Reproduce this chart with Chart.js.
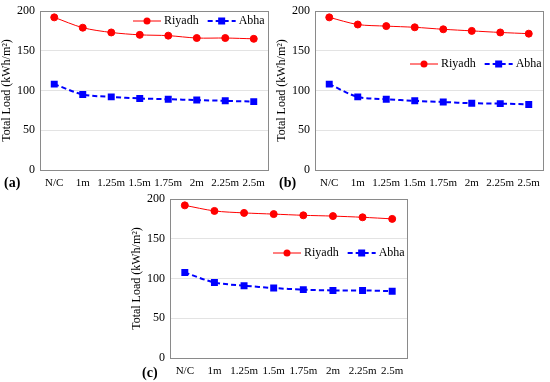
<!DOCTYPE html>
<html>
<head>
<meta charset="utf-8">
<script src="https://cdn.jsdelivr.net/npm/chart.js@4.4.0/dist/chart.umd.min.js"></script>
<style>
  body { margin: 0; background: #fff; }
  #wrap { position: relative; width: 550px; height: 382px; overflow: hidden; }
  .box { position: absolute; }
  .tag { position: absolute; font-family: "Liberation Serif", serif; font-weight: bold; font-size: 14px; color: #000; }
</style>
</head>
<body>
<div id="wrap">
  <div class="box" style="left:0px;top:0px;width:275px;height:195px"><canvas id="chartA"></canvas></div>
  <div class="box" style="left:275px;top:0px;width:275px;height:195px"><canvas id="chartB"></canvas></div>
  <div class="box" style="left:130px;top:188px;width:290px;height:194px"><canvas id="chartC"></canvas></div>
  <div class="tag" style="left:4px;top:175px">(a)</div>
  <div class="tag" style="left:279px;top:175px">(b)</div>
  <div class="tag" style="left:142px;top:365px">(c)</div>
</div>
<script>
// data
var spacing = ["N/C", "1m", "1.25m", "1.5m", "1.75m", "2m", "2.25m", "2.5m"];
var yTicks = [0, 50, 100, 150, 200];

var riyadhA = [192, 179, 173, 170, 169, 166, 166, 165];
var abhaA   = [108, 95, 92, 90, 89, 88, 87, 86];

var riyadhB = [192, 183, 181, 179.5, 177, 175, 173, 171.5];
var abhaB   = [108, 92, 89, 87, 85.5, 84, 83.5, 82.5];

var riyadhC = [192, 185, 182.5, 181, 179.5, 178.5, 177, 175];
var abhaC   = [107.5, 95, 91, 88, 86, 85, 85, 84];

var serif = "'Liberation Serif', 'DejaVu Serif', serif";

// legend drawn inside the plot, at a given canvas position
var innerLegend = {
  id: "innerLegend",
  afterDatasetsDraw: function(chart, args, opts) {
    var ctx = chart.ctx;
    var x = opts.x, y = opts.y;
    ctx.save();
    ctx.font = "12px " + serif;
    ctx.textBaseline = "middle";
    chart.data.datasets.forEach(function(ds) {
      ctx.strokeStyle = ds.borderColor;
      ctx.lineWidth = ds.borderWidth;
      ctx.setLineDash(ds.borderDash || []);
      ctx.beginPath();
      ctx.moveTo(x, y);
      ctx.lineTo(x + 28, y);
      ctx.stroke();
      ctx.setLineDash([]);
      ctx.fillStyle = ds.pointBackgroundColor;
      if (ds.pointStyle == "rect") {
        ctx.fillRect(x + 14 - 3.5, y - 3.5, 7, 7);
      } else {
        ctx.beginPath();
        ctx.arc(x + 14, y, 3.5, 0, Math.PI * 2);
        ctx.fill();
      }
      ctx.fillStyle = "#000";
      ctx.fillText(ds.label, x + 31, y);
      x += 31 + ctx.measureText(ds.label).width + 9;
    });
    ctx.restore();
  }
};

// gray frame round the plot
var frame = {
  id: "frame",
  beforeDatasetsDraw: function(chart) {
    var a = chart.chartArea, ctx = chart.ctx;
    ctx.save();
    ctx.strokeStyle = "#8a8a8a";
    ctx.lineWidth = 1;
    ctx.strokeRect(Math.round(a.left) + 0.5, Math.round(a.top) + 0.5,
                   Math.round(a.right - a.left), Math.round(a.bottom - a.top));
    ctx.restore();
  }
};

function makeChart(id, riyadh, abha, pad, xHeight, leg) {
  return new Chart(id, {
    type: "line",
    data: {
      labels: spacing,
      datasets: [{
        label: "Riyadh",
        data: riyadh,
        borderColor: "#ff0000",
        backgroundColor: "#ff0000",
        pointBackgroundColor: "#ff0000",
        pointBorderColor: "#ff0000",
        borderWidth: 1,
        pointRadius: 3.5,
        pointStyle: "circle",
        tension: 0.3,
        fill: false
      }, {
        label: "Abha",
        data: abha,
        borderColor: "#0000ff",
        backgroundColor: "#0000ff",
        pointBackgroundColor: "#0000ff",
        pointBorderColor: "#0000ff",
        borderWidth: 2,
        borderDash: [5, 3],
        pointRadius: 3.5,
        pointStyle: "rect",
        tension: 0.3,
        fill: false
      }]
    },
    options: {
      responsive: true,
      maintainAspectRatio: false,
      animation: false,
      layout: { padding: pad },
      plugins: {
        legend: { display: false },
        tooltip: { enabled: false },
        innerLegend: leg
      },
      scales: {
        x: {
          offset: true,
          grid: { display: false, drawTicks: false },
          border: { color: "#8a8a8a" },
          ticks: { color: "#000", font: { family: serif, size: 11 }, padding: 7, maxRotation: 0, autoSkip: false },
          afterFit: function(s) { s.height = xHeight; }
        },
        y: {
          min: 0,
          max: 200,
          afterBuildTicks: function(s) { s.ticks = yTicks.map(function(v) { return { value: v }; }); },
          grid: { color: "#e3e3e3", drawTicks: false },
          border: { color: "#8a8a8a" },
          ticks: { color: "#000", font: { family: serif, size: 12, lineHeight: 1 }, padding: 5 },
          title: { display: true, text: "Total Load (kWh/m²)", color: "#000", font: { family: serif, size: 12 }, padding: 0 },
          afterFit: function(s) { s.width = 40; }
        }
      }
    },
    plugins: [innerLegend, frame]
  });
}

makeChart("chartA", riyadhA, abhaA, { top: 3, right: 7, left: 0, bottom: 0 }, 25, { x: 133, y: 21 });
makeChart("chartB", riyadhB, abhaB, { top: 3, right: 7, left: 0, bottom: 0 }, 25, { x: 135, y: 64 });
makeChart("chartC", riyadhC, abhaC, { top: 4, right: 13, left: 0, bottom: 0 }, 24, { x: 143, y: 65 });
</script>
</body>
</html>
